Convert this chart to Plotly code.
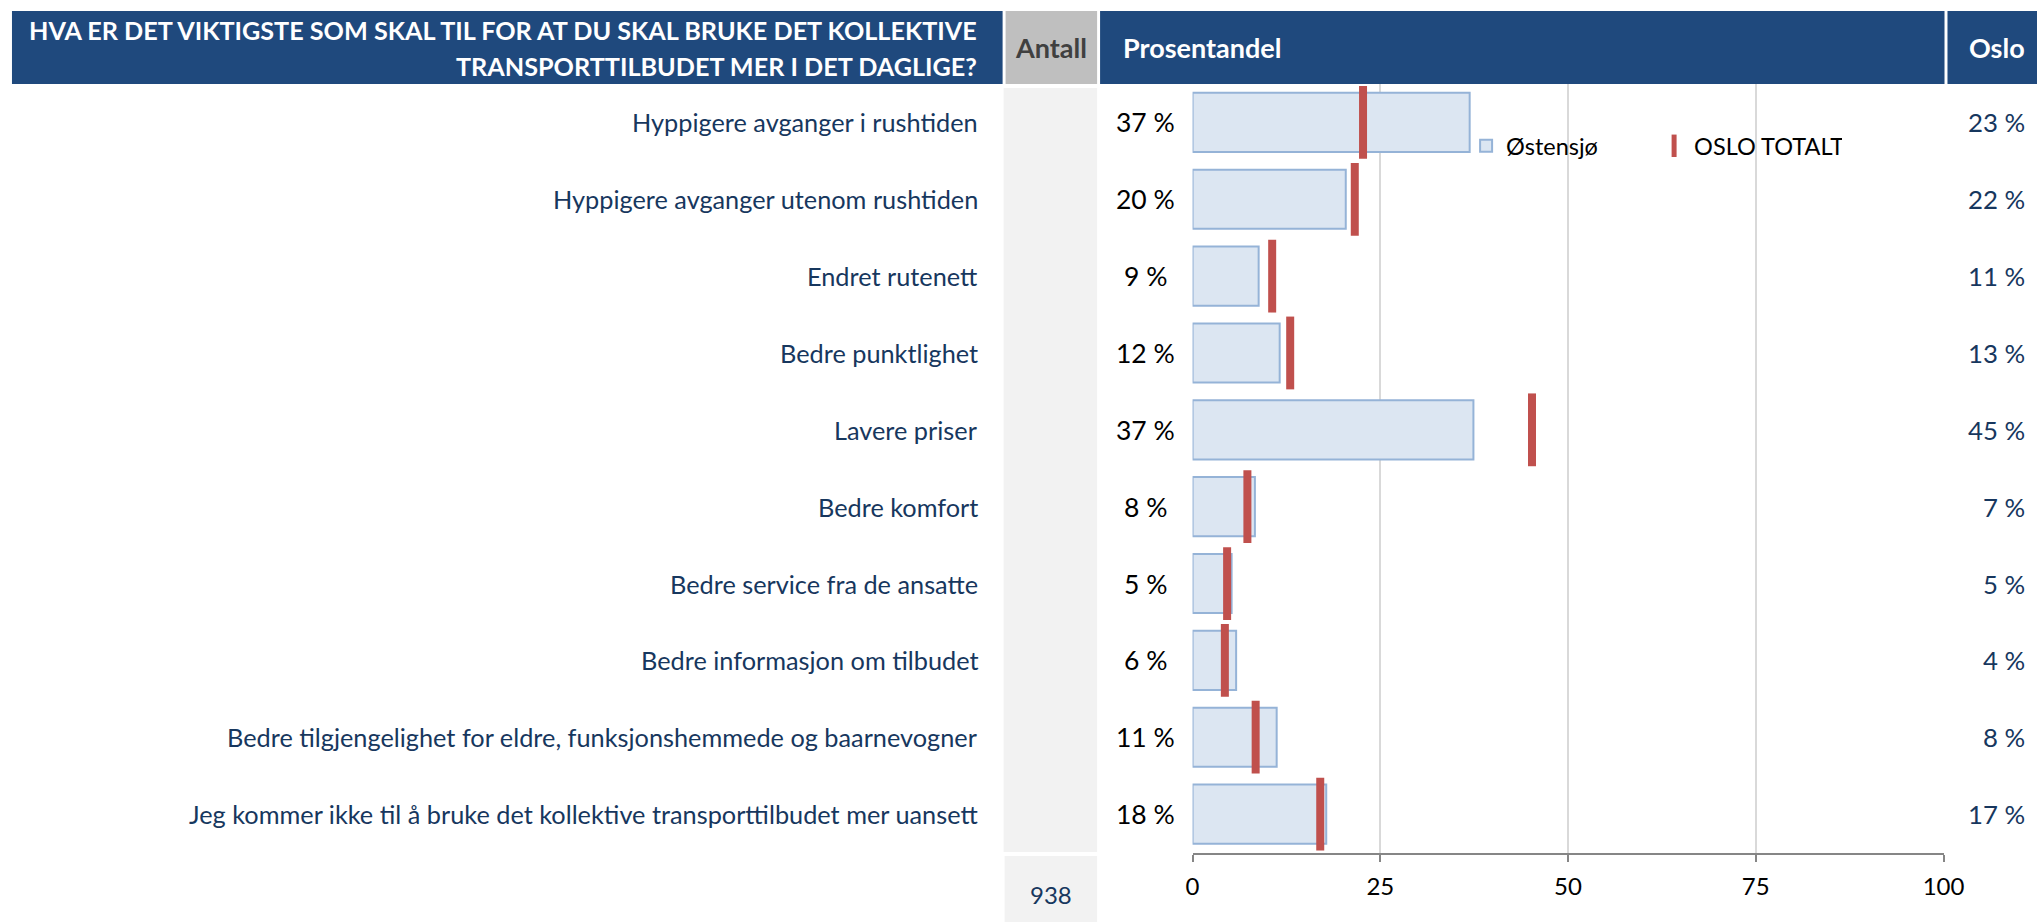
import plotly.graph_objects as go

# ---------------- data ----------------
categories = [
    "Hyppigere avganger i rushtiden",
    "Hyppigere avganger utenom rushtiden",
    "Endret rutenett",
    "Bedre punktlighet",
    "Lavere priser",
    "Bedre komfort",
    "Bedre service fra de ansatte",
    "Bedre informasjon om tilbudet",
    "Bedre tilgjengelighet for eldre, funksjonshemmede og baarnevogner",
    "Jeg kommer ikke til å bruke det kollektive transporttilbudet mer uansett",
]
ostensjo = [36.9, 20.4, 8.8, 11.6, 37.4, 8.3, 5.2, 5.8, 11.2, 17.8]
oslo = [22.7, 21.6, 10.6, 13.0, 45.2, 7.3, 4.6, 4.3, 8.4, 17.0]
x_ticks = [0, 25, 50, 75, 100]
antall_total = 938
series_names = ["Østensjø", "OSLO TOTALT"]
title_lines = [
    "HVA ER DET VIKTIGSTE SOM SKAL TIL FOR AT DU SKAL BRUKE DET KOLLEKTIVE",
    "TRANSPORTTILBUDET MER I DET DAGLIGE?",
]
col_headers = ["Antall", "Prosentandel", "Oslo"]

# ---------------- layout helpers ----------------
REF_W, H = 2041, 922      # design grid (reference pixels)
FIG_W = 2058              # rendered width (page gets fit to window)
FONT = "Lato, Carlito, 'Open Sans', sans-serif"
NAVY = "#17375E"
HEAD_BLUE = "#1F497D"


def px(x):
    return x / REF_W


def py(y):
    return 1 - y / H


fig = go.Figure()

fig.add_trace(go.Bar(
    x=ostensjo, y=categories, orientation="h", name=series_names[0],
    width=0.77,
    marker=dict(color="#DCE6F2", line=dict(color="#95B3D7", width=2)),
    hoverinfo="x+y",
))
fig.add_trace(go.Scatter(
    x=oslo, y=categories, mode="markers", name=series_names[1],
    marker=dict(symbol="line-ns", size=52, color="#C0504D",
                line=dict(color="#C0504D", width=8)),
    hoverinfo="x+y",
))

shapes = []
annotations = []

# header boxes
shapes.append(dict(type="rect", xref="paper", yref="paper", x0=px(5), x1=px(1001),
                   y0=py(84), y1=py(11), fillcolor=HEAD_BLUE, line=dict(width=0), layer="below"))
shapes.append(dict(type="rect", xref="paper", yref="paper", x0=px(1004), x1=px(1096),
                   y0=py(84), y1=py(11), fillcolor="#BFBFBF", line=dict(width=0), layer="below"))
shapes.append(dict(type="rect", xref="paper", yref="paper", x0=px(1099), x1=px(1948),
                   y0=py(84), y1=py(11), fillcolor=HEAD_BLUE, line=dict(width=0), layer="below"))
shapes.append(dict(type="rect", xref="paper", yref="paper", x0=px(1951), x1=px(2041),
                   y0=py(84), y1=py(11), fillcolor=HEAD_BLUE, line=dict(width=0), layer="below"))
# antall column
shapes.append(dict(type="rect", xref="paper", yref="paper", x0=px(1002), x1=px(1096),
                   y0=py(852), y1=py(88), fillcolor="#F2F2F2", line=dict(width=0), layer="below"))
shapes.append(dict(type="rect", xref="paper", yref="paper", x0=px(1003), x1=px(1096),
                   y0=py(922), y1=py(856), fillcolor="#F2F2F2", line=dict(width=0), layer="below"))

# header texts
for line, yc in zip(title_lines, [30, 66]):
    annotations.append(dict(xref="paper", yref="paper", x=px(977), y=py(yc), xanchor="right",
                            yanchor="middle", align="right", showarrow=False, text=line,
                            font=dict(family=FONT, size=25.2, color="white", weight="bold")))
annotations.append(dict(xref="paper", yref="paper", x=px(1050), y=py(48), xanchor="center",
                        yanchor="middle", showarrow=False, text=col_headers[0],
                        font=dict(family=FONT, size=27, color="#404040", weight="bold")))
annotations.append(dict(xref="paper", yref="paper", x=px(1120), y=py(48), xanchor="left",
                        yanchor="middle", showarrow=False, text=col_headers[1],
                        font=dict(family=FONT, size=27, color="white", weight="bold")))
annotations.append(dict(xref="paper", yref="paper", x=px(2031), y=py(48), xanchor="right",
                        yanchor="middle", showarrow=False, text=col_headers[2],
                        font=dict(family=FONT, size=27, color="white", weight="bold")))

# row texts
for cat, v, o in zip(categories, ostensjo, oslo):
    annotations.append(dict(xref="paper", yref="y", x=px(978), y=cat, xanchor="right",
                            yanchor="middle", showarrow=False, text=cat,
                            font=dict(family=FONT, size=25.3, color=NAVY)))
    annotations.append(dict(xref="paper", yref="y", x=px(1145), y=cat, xanchor="center",
                            yanchor="middle", showarrow=False, text=f"{round(v)} %",
                            font=dict(family=FONT, size=26.5, color="black")))
    annotations.append(dict(xref="paper", yref="y", x=px(2031), y=cat, xanchor="right",
                            yanchor="middle", showarrow=False, text=f"{round(o)} %",
                            font=dict(family=FONT, size=25.8, color=NAVY)))

annotations.append(dict(xref="paper", yref="paper", x=px(1050), y=py(894), xanchor="center",
                        yanchor="middle", showarrow=False, text=str(antall_total),
                        font=dict(family=FONT, size=24, color=NAVY)))

fig.update_layout(
    width=FIG_W, height=H,
    margin=dict(l=0, r=0, t=0, b=0),
    paper_bgcolor="white", plot_bgcolor="white",
    font=dict(family=FONT, size=24, color="black"),
    bargap=0.23,
    showlegend=True,
    legend=dict(orientation="h", x=px(1467), y=py(146), xanchor="left", yanchor="middle",
                font=dict(family=FONT, size=23.5, color="black"),
                bgcolor="rgba(0,0,0,0)", entrywidth=143, entrywidthmode="pixels",
                traceorder="normal"),
    xaxis=dict(domain=[px(1192), px(1947)], range=[0, 100], tickvals=x_ticks,
               showgrid=True, gridcolor="#D9D9D9", gridwidth=2, zeroline=False,
               showline=True, linecolor="#868686", linewidth=2,
               ticks="outside", ticklen=7, tickcolor="#868686", tickwidth=2,
               ticklabelstandoff=5,
               tickfont=dict(family=FONT, size=24, color="black"), fixedrange=True),
    yaxis=dict(domain=[py(852.5), py(84)], type="category", categoryorder="array",
               categoryarray=categories, range=[len(categories) - 0.5, -0.5],
               showticklabels=False, showgrid=False, zeroline=False, showline=False,
               fixedrange=True),
    shapes=shapes,
    annotations=annotations,
)

fig.write_html(
    "out.html",
    config={"displayModeBar": False},
    post_script=(
        "document.documentElement.style.margin='0';"
        "document.documentElement.style.overflow='hidden';"
        "document.body.style.margin='0';"
        "document.body.style.padding='0';"
        "document.body.style.overflow='hidden';"
    ),
)
